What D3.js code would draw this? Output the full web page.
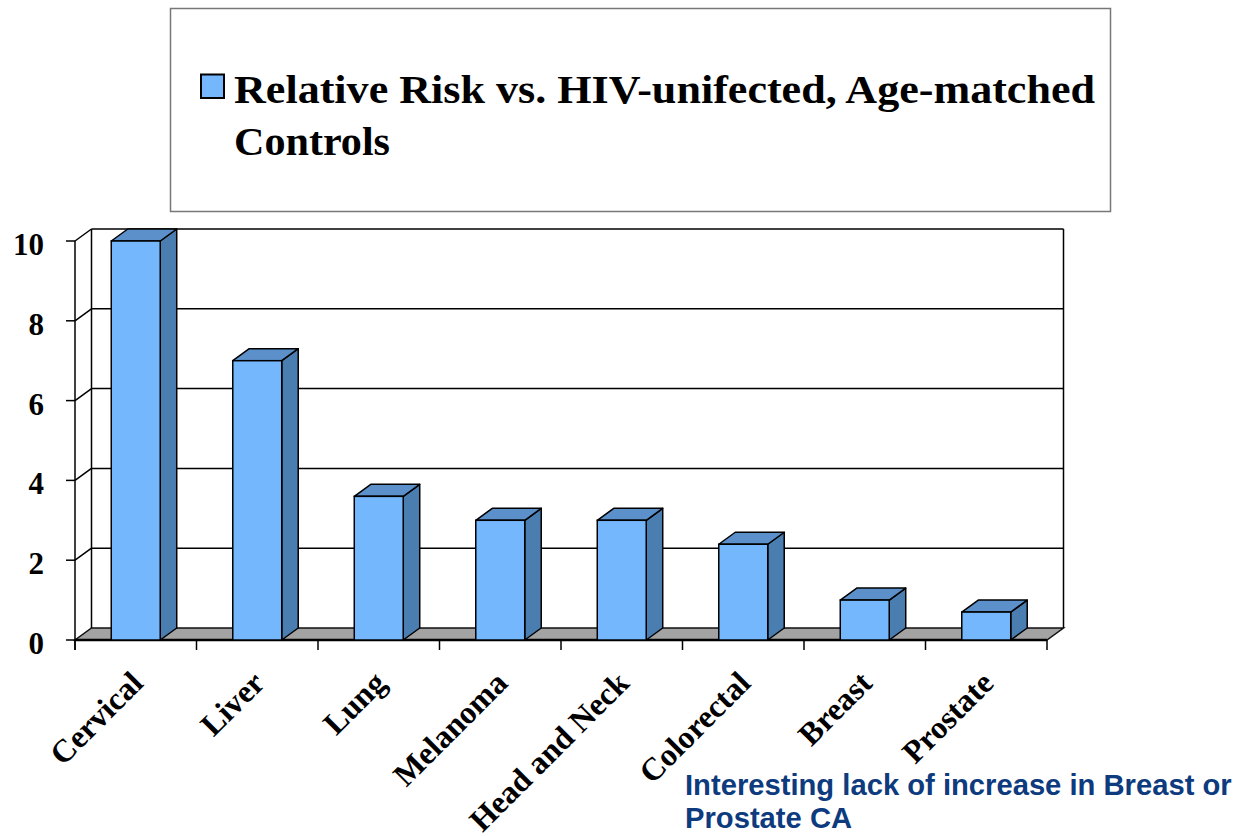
<!DOCTYPE html>
<html>
<head>
<meta charset="utf-8">
<script src="https://cdn.jsdelivr.net/npm/d3@7"></script>
<style>
  html, body { margin: 0; padding: 0; background: #fff; }
  svg { display: block; }
</style>
</head>
<body>
<svg id="chart" width="1237" height="836"></svg>
<script>
// Cancer types and relative risk vs. HIV-uninfected, age-matched controls
const categories = ["Cervical", "Liver", "Lung", "Melanoma", "Head and Neck", "Colorectal", "Breast", "Prostate"];
const relativeRisk = [10, 7, 3.6, 3, 3, 2.4, 1, 0.7];
const yTicks = [0, 2, 4, 6, 8, 10];
const legendLines = ["Relative Risk vs. HIV-unifected, Age-matched", "Controls"];
const noteLines = ["Interesting lack of increase in Breast or", "Prostate CA"];

const svg = d3.select("#chart");

// Front plane of the 3-D plot and the depth offset to the back wall
const plotLeft = 75, plotRight = 1047, plotBottom = 640, plotTop = 241;
const dx = 16.5, dy = -12;

const x = d3.scaleBand().domain(categories).range([plotLeft, plotRight]).padding(0);
const y = d3.scaleLinear().domain([0, 10]).range([plotBottom, plotTop]);
const barW = x.bandwidth() * 0.403;

const fontSerif = "'Liberation Serif', 'Times New Roman', serif";
const fontSans = "'Liberation Sans', Arial, sans-serif";

const colFront = "#75b7fd", colTop = "#5b90cb", colSide = "#4a7db0";

// Legend box
const legend = svg.append("g");
legend.append("rect")
  .attr("x", 170.5).attr("y", 8.5).attr("width", 940).attr("height", 203)
  .attr("fill", "#fff").attr("stroke", "#777").attr("stroke-width", 1.5);
legend.append("rect")
  .attr("x", 201).attr("y", 74.5).attr("width", 23).attr("height", 23.5)
  .attr("fill", colFront).attr("stroke", "#000").attr("stroke-width", 2);
legend.append("text")
  .attr("x", 234).attr("y", 103)
  .attr("font-family", fontSerif).attr("font-weight", "bold").attr("font-size", 39)
  .attr("textLength", 861).attr("lengthAdjust", "spacingAndGlyphs")
  .text(legendLines[0]);
legend.append("text")
  .attr("x", 234).attr("y", 155)
  .attr("font-family", fontSerif).attr("font-weight", "bold").attr("font-size", 39)
  .attr("textLength", 156).attr("lengthAdjust", "spacingAndGlyphs")
  .text(legendLines[1]);

const plot = svg.append("g");
const line = (x1, y1, x2, y2, w) => plot.append("line")
  .attr("x1", x1).attr("y1", y1).attr("x2", x2).attr("y2", y2)
  .attr("stroke", "#000").attr("stroke-width", w || 1.5);

// Floor
plot.append("polygon")
  .attr("points", [[plotLeft, plotBottom], [plotRight, plotBottom], [plotRight + dx, plotBottom + dy], [plotLeft + dx, plotBottom + dy]].join(" "))
  .attr("fill", "#a3a3a3").attr("stroke", "#111").attr("stroke-width", 1.5);

// Walls: gridlines on the side and back walls
yTicks.filter(t => t > 0).forEach(t => {
  const yy = y(t);
  line(plotLeft, yy, plotLeft + dx, yy + dy);
  line(plotLeft + dx, yy + dy, plotRight + dx, yy + dy);
});
line(plotLeft + dx, y(10) + dy, plotLeft + dx, plotBottom + dy);
line(plotRight + dx, y(10) + dy, plotRight + dx, plotBottom + dy);
line(plotLeft, y(10), plotLeft, plotBottom + 10);

// Front edge of the floor and axis ticks
line(plotLeft, plotBottom, plotRight, plotBottom, 2.5);
yTicks.forEach(t => line(plotLeft - 9, y(t), plotLeft, y(t)));
d3.range(categories.length + 1).forEach(i => {
  const xx = plotLeft + i * x.step();
  line(xx, plotBottom, xx, plotBottom + 10);
});

// Bars (side face, top face, front face)
const bars = plot.selectAll("g.bar").data(categories.map((c, i) => ({ c, v: relativeRisk[i] })))
  .enter().append("g").attr("class", "bar");
bars.each(function(d) {
  const g = d3.select(this);
  const x0 = x(d.c) + (x.bandwidth() - barW) / 2, x1 = x0 + barW;
  const yv = y(d.v);
  g.append("polygon")
    .attr("points", [[x1, yv], [x1 + dx, yv + dy], [x1 + dx, plotBottom + dy], [x1, plotBottom]].join(" "))
    .attr("fill", colSide).attr("stroke", "#000").attr("stroke-width", 1.5).attr("stroke-linejoin", "round");
  g.append("polygon")
    .attr("points", [[x0, yv], [x0 + dx, yv + dy], [x1 + dx, yv + dy], [x1, yv]].join(" "))
    .attr("fill", colTop).attr("stroke", "#000").attr("stroke-width", 1.5).attr("stroke-linejoin", "round");
  g.append("rect")
    .attr("x", x0).attr("y", yv).attr("width", barW).attr("height", plotBottom - yv)
    .attr("fill", colFront).attr("stroke", "#000").attr("stroke-width", 1.5);
});

// Value axis labels
svg.append("g").selectAll("text").data(yTicks).enter().append("text")
  .attr("x", 44).attr("y", d => y(d) + 14)
  .attr("text-anchor", "end")
  .attr("font-family", fontSerif).attr("font-weight", "bold").attr("font-size", 31)
  .text(d => d);

// Category labels, rotated
svg.append("g").selectAll("text").data(categories).enter().append("text")
  .attr("transform", d => `translate(${x(d) + x.bandwidth() / 2 + 9},685) rotate(-45)`)
  .attr("text-anchor", "end")
  .attr("font-family", fontSerif).attr("font-weight", "bold").attr("font-size", 32)
  .text(d => d);

// Note
svg.append("g").selectAll("text").data(noteLines).enter().append("text")
  .attr("x", 685).attr("y", (d, i) => 795 + i * 33)
  .attr("font-family", fontSans).attr("font-weight", "bold").attr("font-size", 29.2)
  .attr("fill", "#0d3b7e")
  .text(d => d);
</script>
</body>
</html>
